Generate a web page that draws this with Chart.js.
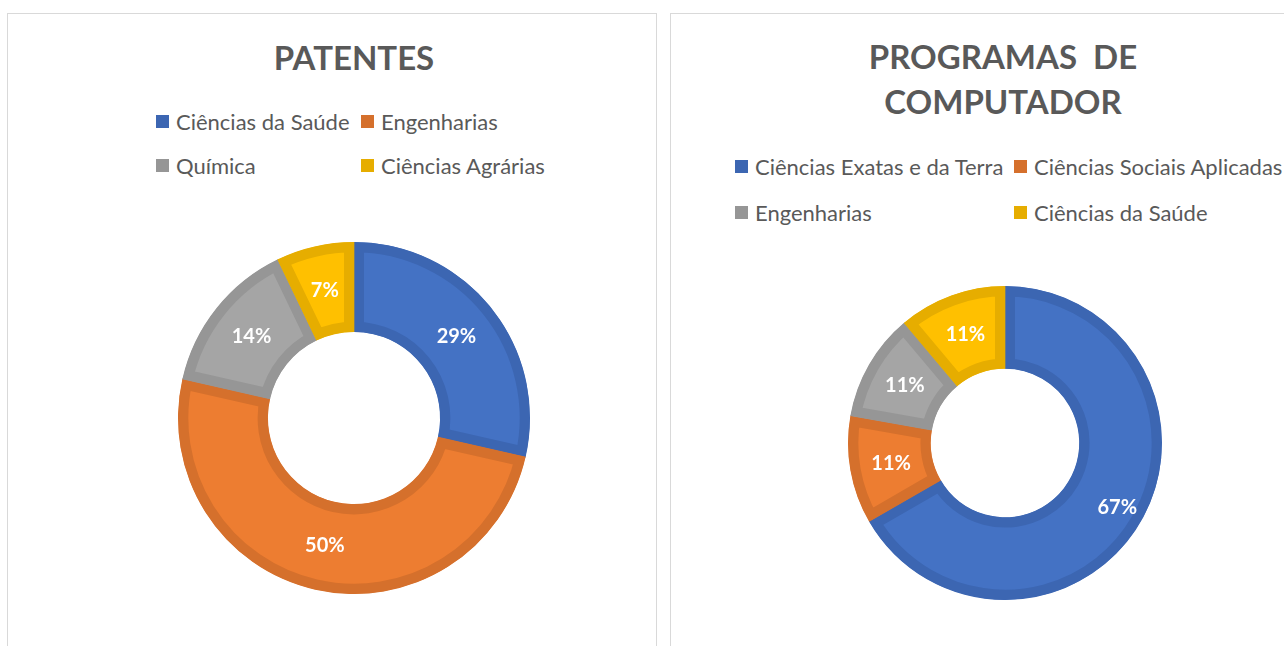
<!DOCTYPE html>
<html>
<head>
<meta charset="utf-8">
<script src="https://cdn.jsdelivr.net/npm/chart.js@4.4.1/dist/chart.umd.min.js"></script>
<style>
  html, body { margin: 0; padding: 0; background: #fff; }
  body { width: 1284px; height: 646px; overflow: hidden; position: relative; font-family: Lato, "Open Sans", sans-serif; color: #595959; }
  .panel { position: absolute; border: 1px solid #d9d9d9; background: #fff; }
  .title { position: absolute; font-weight: 700; font-size: 33px; text-align: center; white-space: pre; }
  .legend { position: absolute; display: grid; font-size: 22px; row-gap: 0; }
  .item { display: flex; align-items: center; white-space: nowrap; }
  .box { width: 13px; height: 13px; margin-right: 7px; flex: none; }
  .cv { position: absolute; }
</style>
</head>
<body>
<div class="panel" style="left:7px; top:13px; width:648px; height:700px;"></div>
<div class="panel" style="left:670px; top:13px; width:700px; height:700px;"></div>

<div class="title" id="t1" style="left:254px; width:200px; top:41px; line-height:33px;"></div>
<div class="title" id="t2" style="left:853px; width:300px; top:34px; line-height:45px;"></div>

<div class="legend" id="lg1" style="left:156px; top:99px; grid-template-columns:205px 205px; grid-auto-rows:44px;"></div>
<div class="legend" id="lg2" style="left:735px; top:143px; grid-template-columns:279px 279px; grid-auto-rows:46px;"></div>

<canvas class="cv" id="c1" width="360" height="360" style="left:174px; top:238px;"></canvas>
<canvas class="cv" id="c2" width="330" height="330" style="left:840px; top:278px;"></canvas>

<script>
// ---- Data ----
const patentTitle = 'PATENTES';
const patentCategories = ['Ciências da Saúde', 'Engenharias', 'Química', 'Ciências Agrárias'];
const patentValues = [4, 7, 2, 1];

const programTitle = ['PROGRAMAS  DE', 'COMPUTADOR'];
const programCategories = ['Ciências Exatas e da Terra', 'Ciências Sociais Aplicadas', 'Engenharias', 'Ciências da Saúde'];
const programValues = [6, 1, 1, 1];

// ---- Styles ----
const fillColors = ['#4472C4', '#ED7D31', '#A5A5A5', '#FFC000'];
const edgeColors = ['#3C66B2', '#D5702C', '#969696', '#E6AD00'];

const pctLabels = {
  id: 'pctLabels',
  afterDatasetsDraw(chart, args, opts) {
    const ctx = chart.ctx;
    const ds = chart.data.datasets[0];
    const total = ds.data.reduce((a, b) => a + b, 0);
    ctx.save();
    ctx.fillStyle = '#ffffff';
    ctx.font = 'bold 20px Lato, "Open Sans", sans-serif';
    ctx.textAlign = 'center';
    ctx.textBaseline = 'middle';
    chart.getDatasetMeta(0).data.forEach((arc, i) => {
      const p = arc.getProps(['x', 'y', 'startAngle', 'endAngle', 'innerRadius', 'outerRadius'], true);
      const mid = (p.startAngle + p.endAngle) / 2;
      const shift = (opts.shift && opts.shift[i]) || 0;
      const rr = (p.innerRadius + p.outerRadius) / 2 + shift;
      const txt = Math.round(ds.data[i] / total * 100) + '%';
      ctx.fillText(txt, p.x + Math.cos(mid) * rr, p.y + Math.sin(mid) * rr);
    });
    ctx.restore();
  }
};

function buildLegend(el, cats) {
  cats.forEach((c, i) => {
    const it = document.createElement('div');
    it.className = 'item';
    const b = document.createElement('span');
    b.className = 'box';
    b.style.background = edgeColors[i];
    const t = document.createElement('span');
    t.textContent = c;
    it.appendChild(b); it.appendChild(t);
    el.appendChild(it);
  });
}

function makeDonut(id, cats, vals, outerR, innerR, shift) {
  return new Chart(document.getElementById(id), {
    type: 'doughnut',
    data: {
      labels: cats,
      datasets: [{
        data: vals,
        backgroundColor: fillColors,
        borderColor: edgeColors,
        borderWidth: 10,
        borderAlign: 'inner',
        hoverOffset: 0
      }]
    },
    options: {
      responsive: false,
      animation: false,
      radius: outerR,
      cutout: innerR,
      layout: { padding: 0 },
      plugins: {
        legend: { display: false },
        title: { display: false },
        tooltip: { enabled: false },
        pctLabels: { shift: shift }
      }
    },
    plugins: [pctLabels]
  });
}

document.getElementById('t1').textContent = patentTitle;
document.getElementById('t2').textContent = programTitle.join('\n');
buildLegend(document.getElementById('lg1'), patentCategories);
buildLegend(document.getElementById('lg2'), programCategories);

makeDonut('c1', patentCategories, patentValues, 176, 88, {});
makeDonut('c2', programCategories, programValues, 157, 78, {0: 14});
</script>
</body>
</html>
